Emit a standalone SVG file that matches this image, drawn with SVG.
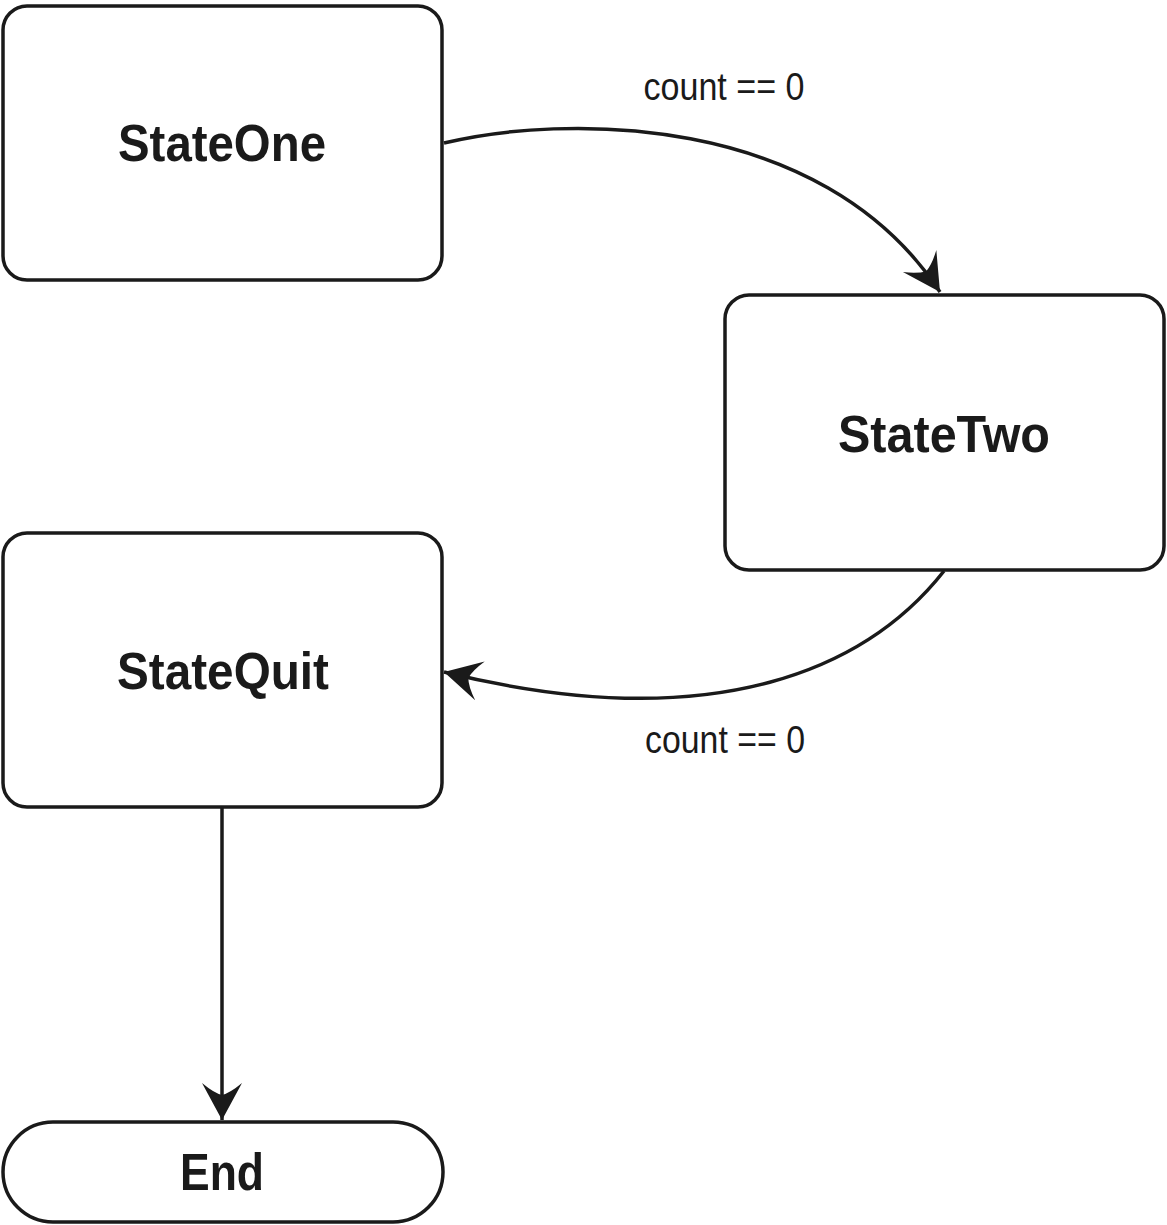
<svg xmlns="http://www.w3.org/2000/svg" width="1167" height="1225" viewBox="0 0 1167 1225">
<style>
.box{fill:#fff;stroke:#1a1a1a;stroke-width:3.5}
.t{font-family:"Liberation Sans",Arial,sans-serif;font-weight:bold;font-size:52px;fill:#1a1a1a;text-anchor:middle}
.l{font-family:"Liberation Sans",Arial,sans-serif;font-size:38px;fill:#1a1a1a;text-anchor:middle}
.c{fill:none;stroke:#1a1a1a;stroke-width:3.5}
</style>
<defs>
<marker id="ah" markerUnits="userSpaceOnUse" markerWidth="50" markerHeight="50" viewBox="-40 -25 45 50" refX="0" refY="0" orient="auto">
<path d="M0,0 L-37,-20 Q-27,-8 -25,0 Q-27,8 -37,20 Z" fill="#1a1a1a"/>
</marker>
</defs>
<rect width="1167" height="1225" fill="#fff"/>
<g id="connectors">
<path class="c" d="M444,143 C560,115 820,110 940,292" marker-end="url(#ah)"/>
<path class="c" d="M944,571 C870,665 720,740 444,672" marker-end="url(#ah)"/>
<path class="c" d="M222,808 L222,1120" marker-end="url(#ah)"/>
<text class="l" x="724" y="100" textLength="161" lengthAdjust="spacingAndGlyphs">count == 0</text>
<text class="l" x="725" y="753" textLength="160" lengthAdjust="spacingAndGlyphs">count == 0</text>
</g>
<g id="stateOne">
<rect class="box" x="3" y="6" width="439" height="274" rx="24"/>
<text class="t" x="222" y="161" textLength="208" lengthAdjust="spacingAndGlyphs">StateOne</text>
</g>
<g id="stateTwo">
<rect class="box" x="725" y="295" width="439" height="275" rx="24"/>
<text class="t" x="944" y="452" textLength="212" lengthAdjust="spacingAndGlyphs">StateTwo</text>
</g>
<g id="stateQuit">
<rect class="box" x="3" y="533" width="439" height="274" rx="24"/>
<text class="t" x="223" y="689" textLength="212" lengthAdjust="spacingAndGlyphs">StateQuit</text>
</g>
<g id="end">
<rect class="box" x="3" y="1122" width="440" height="100" rx="50"/>
<text class="t" x="222" y="1190" textLength="84" lengthAdjust="spacingAndGlyphs">End</text>
</g>
</svg>
